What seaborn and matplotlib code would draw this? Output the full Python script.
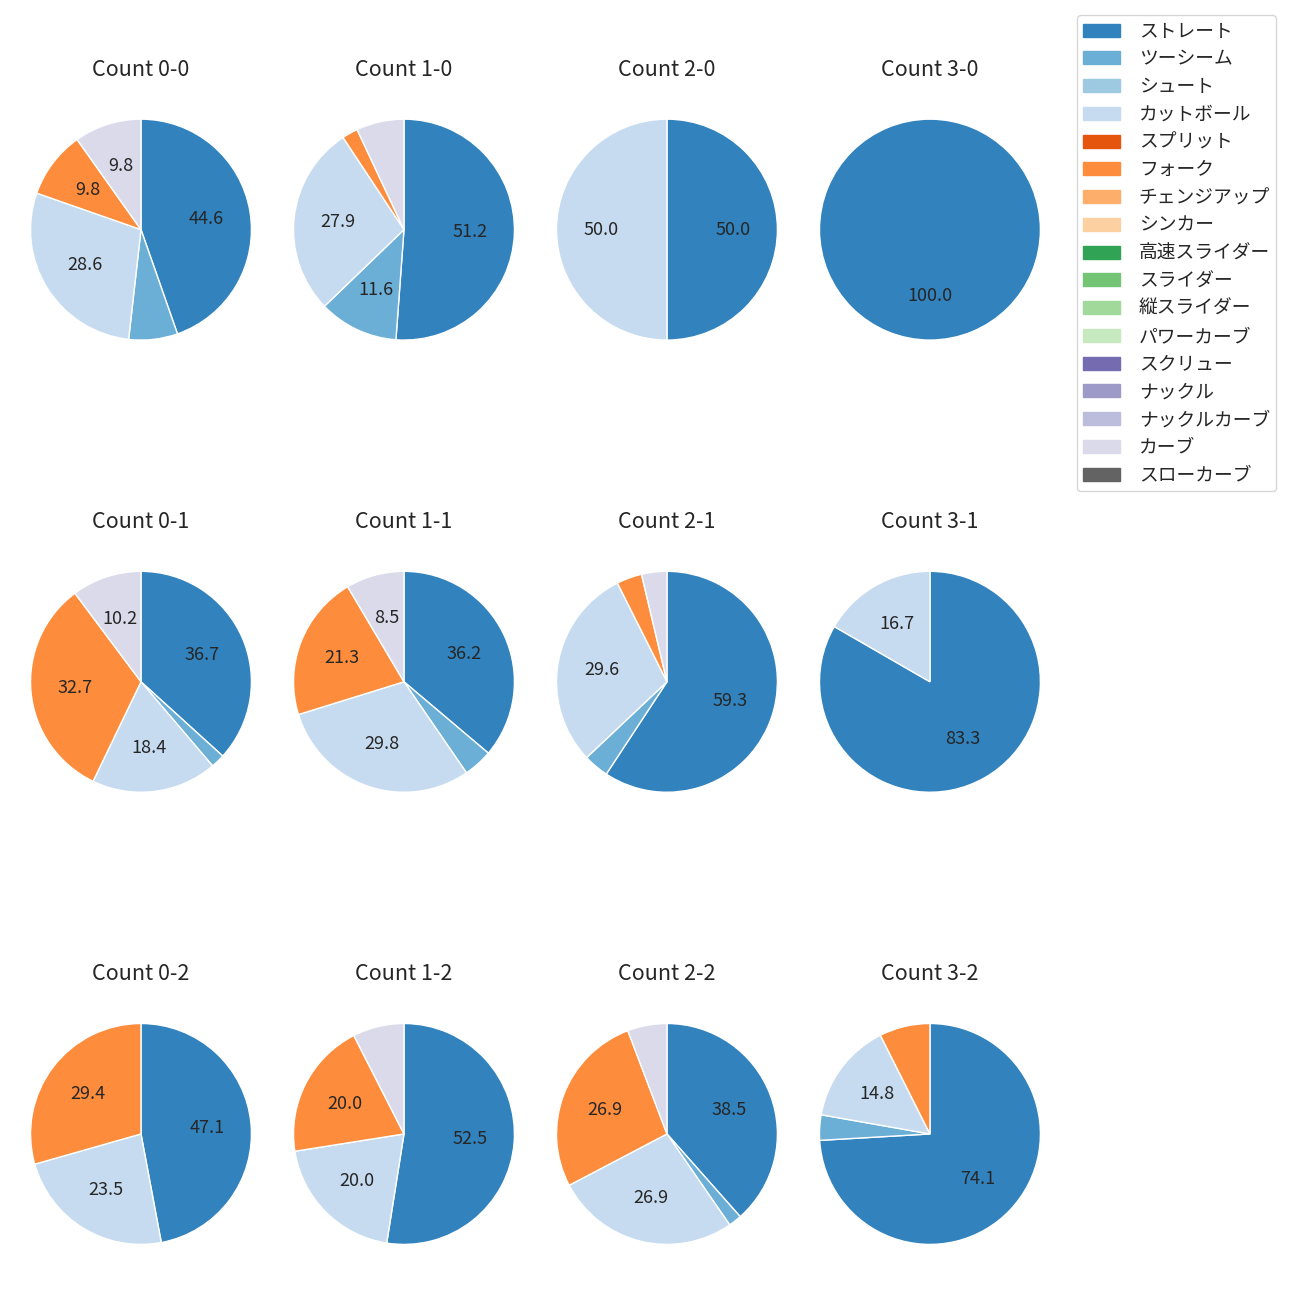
import matplotlib
matplotlib.use("Agg")
import matplotlib.pyplot as plt
import matplotlib.patches as mpatches
import seaborn as sns

sns.set_style("white")
plt.rcParams["font.family"] = ["Noto Sans CJK JP", "DejaVu Sans"]

# pitch types shown in the legend (tab20c order)
pitch_types = [
    "ストレート", "ツーシーム", "シュート", "カットボール", "スプリット", "フォーク",
    "チェンジアップ", "シンカー", "高速スライダー", "スライダー", "縦スライダー",
    "パワーカーブ", "スクリュー", "ナックル", "ナックルカーブ", "カーブ", "スローカーブ",
]
colors = sns.color_palette("tab20c", 20)[:17]

# ball-strike counts, row by row
counts = ["0-0", "1-0", "2-0", "3-0",
          "0-1", "1-1", "2-1", "3-1",
          "0-2", "1-2", "2-2", "3-2"]

# number of pitches per count
straight = [50, 22, 1, 1, 18, 17, 16, 5, 8, 21, 20, 20]
two_seam = [8, 5, 0, 0, 1, 2, 1, 0, 0, 0, 1, 1]
cutter = [32, 12, 1, 0, 9, 14, 8, 1, 4, 8, 14, 4]
fork = [11, 1, 0, 0, 16, 10, 1, 0, 5, 8, 14, 2]
curve = [11, 3, 0, 0, 5, 4, 1, 0, 0, 3, 3, 0]

series = {"ストレート": straight, "ツーシーム": two_seam, "カットボール": cutter,
          "フォーク": fork, "カーブ": curve}
color_of = dict(zip(pitch_types, colors))

fig, axes = plt.subplots(3, 4, figsize=(13, 13))
fig.subplots_adjust(left=0.0073, right=0.8165, top=0.9388, bottom=0.0123,
                    wspace=0.0, hspace=0.5067)

for i, (ax, cnt) in enumerate(zip(axes.flat, counts)):
    names = [n for n in series if series[n][i] > 0]
    vals = [series[n][i] for n in names]
    ax.pie(vals, colors=[color_of[n] for n in names], startangle=90,
           counterclock=False, radius=1.05,
           autopct=lambda p: f"{p:.1f}" if p >= 8 else "",
           textprops={"fontsize": 13})
    ax.set_title(f"Count {cnt}", fontsize=15.5, pad=16)

handles = [mpatches.Patch(color=c, label=n) for n, c in zip(pitch_types, colors)]
fig.legend(handles=handles, loc="upper left", bbox_to_anchor=(1077 / 1300, 1 - 15 / 1300),
           borderaxespad=0, fontsize=13.5, labelspacing=0.36, handletextpad=1.0,
           borderpad=0.3)

fig.savefig("out.png", dpi=100)
